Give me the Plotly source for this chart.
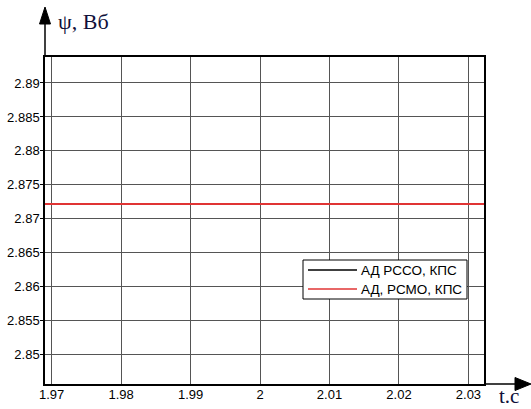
import plotly.graph_objects as go

# Time axis, seconds
t = [1.969, 1.98, 1.99, 2.0, 2.01, 2.02, 2.0215, 2.024, 2.0265, 2.03, 2.0325]
# Flux linkage, Wb
psi_rsso = [2.8722, 2.8722, 2.8722, 2.8722, 2.8722, 2.8722, 2.8723, 2.8723, 2.8723, 2.8722, 2.8722]
psi_rsmo = [2.8722, 2.8722, 2.8722, 2.8722, 2.8722, 2.8722, 2.8722, 2.8722, 2.8722, 2.8722, 2.8722]

series_names = ["АД РССО, КПС", "АД, РСМО, КПС"]
series_colors = ["#000000", "#e03434"]

x_ticks = [1.97, 1.98, 1.99, 2.0, 2.01, 2.02, 2.03]
x_labels = ["1.97", "1.98", "1.99", "2", "2.01", "2.02", "2.03"]
y_ticks = [2.85, 2.855, 2.86, 2.865, 2.87, 2.875, 2.88, 2.885, 2.89]
y_labels = ["2.85", "2.855", "2.86", "2.865", "2.87", "2.875", "2.88", "2.885", "2.89"]

W, H = 531, 409
ML, MR, MT, MB = 45, 47, 57, 25
PW, PH = W - ML - MR, H - MT - MB


def px(xp):
    return (xp - ML) / PW


def py(yp):
    return (H - MB - yp) / PH


tick_font = dict(family="Liberation Sans, Arial, sans-serif", size=13, color="#000000")
label_font = dict(family="Liberation Serif, Times New Roman, serif", size=22, color="#10103a")
legend_font = dict(family="Liberation Sans, Arial, sans-serif", size=13.5, color="#000000")

fig = go.Figure()
fig.add_trace(go.Scatter(x=t, y=psi_rsso, mode="lines", name=series_names[0],
                         line=dict(color=series_colors[0], width=1.2)))
fig.add_trace(go.Scatter(x=t, y=psi_rsmo, mode="lines", name=series_names[1],
                         line=dict(color=series_colors[1], width=2)))

axis_common = dict(showline=True, linecolor="#000000", linewidth=1.5, mirror=True,
                   showgrid=True, gridcolor="#555555", gridwidth=1, zeroline=False,
                   tickfont=tick_font, automargin=False)

fig.update_xaxes(range=[1.96904, 2.03224], tickvals=x_ticks, ticktext=x_labels,
                 ticks="", ticklabelstandoff=-2, **axis_common)
fig.update_yaxes(range=[2.8457, 2.89382], tickvals=y_ticks, ticktext=y_labels,
                 ticks="outside", ticklen=3, tickcolor="#000000",
                 ticklabelstandoff=-2, **axis_common)

# Axis arrows: vertical line up to an arrowhead, horizontal line out to the right
shapes = [
    dict(type="line", xref="paper", yref="paper", x0=0, x1=0, y0=1, y1=py(22),
         line=dict(color="#000000", width=1.5)),
    dict(type="path", xref="paper", yref="paper",
         path=f"M {px(45)},{py(7)} L {px(39.5)},{py(24)} L {px(50.5)},{py(24)} Z",
         fillcolor="#000000", line=dict(color="#000000", width=1)),
    dict(type="line", xref="paper", yref="paper", x0=1, x1=px(518), y0=0, y1=0,
         line=dict(color="#000000", width=1.5)),
    dict(type="path", xref="paper", yref="paper",
         path=f"M {px(531)},{py(384)} L {px(515)},{py(377.5)} L {px(515)},{py(390.5)} Z",
         fillcolor="#000000", line=dict(color="#000000", width=1)),
]

# Legend box drawn in the plot area
LX0, LX1, LY0, LY1 = 303, 467, 260, 299
shapes.append(dict(type="rect", xref="paper", yref="paper",
                   x0=px(LX0), x1=px(LX1), y0=py(LY1), y1=py(LY0),
                   fillcolor="#ffffff", line=dict(color="#000000", width=1), layer="above"))
row_y = [270, 289]
annotations = []
for name, color, ry in zip(series_names, series_colors, row_y):
    shapes.append(dict(type="line", xref="paper", yref="paper",
                       x0=px(308), x1=px(357), y0=py(ry), y1=py(ry),
                       line=dict(color=color, width=1.3), layer="above"))
    annotations.append(dict(text=name, xref="paper", yref="paper", x=px(359), y=py(ry),
                            xanchor="left", yanchor="middle", showarrow=False,
                            font=legend_font))

annotations += [
    dict(text="ψ, Вб", xref="paper", yref="paper", x=px(56), y=py(21),
         xanchor="left", yanchor="middle", showarrow=False, font=label_font),
    dict(text="t.c", xref="paper", yref="paper", x=px(497), y=py(396),
         xanchor="left", yanchor="middle", showarrow=False,
         font=dict(label_font, size=21)),
]

fig.update_layout(
    width=W, height=H,
    margin=dict(l=ML, r=MR, t=MT, b=MB, autoexpand=False),
    paper_bgcolor="#ffffff", plot_bgcolor="#ffffff",
    shapes=shapes, annotations=annotations,
    showlegend=False,
)

fig.write_html("out.html")
